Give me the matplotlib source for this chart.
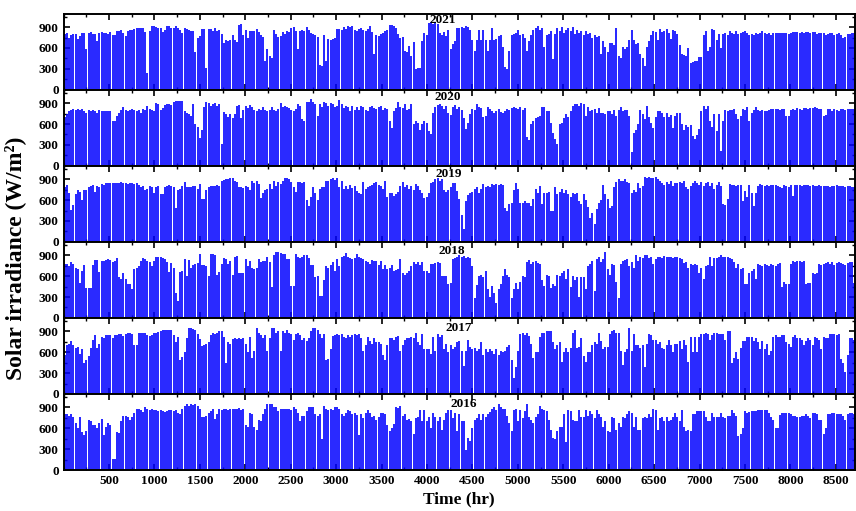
import numpy as np
import matplotlib
matplotlib.use("Agg")
import matplotlib.pyplot as plt
from matplotlib.ticker import MultipleLocator

plt.rcParams['font.family'] = ['Liberation Serif', 'DejaVu Serif']
plt.rcParams['font.weight'] = 'bold'

# daily peak irradiance, in units of 10 W/m2
peak_2021 = [80, 81, 74, 79, 80, 80, 73, 77, 82, 81, 58, 82, 83, 80, 80, 70, 82, 83, 81, 82,
             80, 83, 78, 79, 84, 84, 86, 82, 77, 84, 86, 86, 87, 88, 89, 88, 89, 83, 24, 85,
             91, 91, 90, 88, 88, 83, 86, 91, 91, 88, 88, 92, 89, 86, 82, 88, 87, 86, 85, 85,
             54, 74, 77, 87, 87, 31, 87, 87, 84, 88, 84, 86, 80, 67, 72, 70, 71, 79, 71, 68,
             93, 94, 78, 86, 75, 84, 85, 85, 87, 83, 78, 76, 41, 58, 48, 45, 86, 80, 76, 77,
             83, 80, 85, 83, 88, 90, 84, 58, 85, 86, 85, 90, 86, 82, 80, 78, 76, 35, 34, 78,
             42, 73, 72, 73, 74, 87, 87, 86, 90, 87, 92, 90, 91, 86, 84, 87, 88, 86, 85, 87,
             92, 83, 52, 78, 77, 80, 82, 84, 86, 93, 93, 92, 88, 80, 74, 76, 56, 54, 63, 48,
             68, 30, 31, 31, 70, 82, 78,
             96, 97, 95, 96, 94, 82, 79, 83, 77, 86, 58, 65, 70, 88, 89, 90, 88, 92, 90, 86,
             72, 56, 72, 86, 72, 86, 72, 56, 72, 88, 72, 73, 77, 79, 62, 33, 30, 56, 78, 80,
             82, 86, 78, 80, 75, 56, 70, 78, 86, 88, 91, 86, 89, 62, 78, 80, 84, 44, 80, 88,
             85, 90, 82, 86, 88, 84, 90, 80, 86, 82, 85, 78, 84, 80, 82, 75, 78, 76, 77, 52,
             70, 62, 54, 67, 67, 64, 88, 48, 46, 62, 59, 62, 71, 86, 72, 65, 67, 52, 46, 34,
             62, 70, 78, 84, 83, 72, 87, 83, 84, 87, 82, 73, 86, 84, 80, 64, 52, 50, 48, 60,
             38, 40, 42, 42, 47, 47, 79, 85, 56, 62, 87, 86, 72, 80, 60, 80, 82, 78, 84, 82,
             80, 84, 80, 81, 83, 84, 82, 78, 80, 78, 82, 80, 82, 84, 81, 80, 82, 79, 82, 82,
             81, 82, 81, 82, 82, 80, 82, 83, 83, 83, 82, 83, 81, 83, 83, 82, 83, 83, 80, 82,
             82, 82, 78, 80, 82, 81, 78, 80, 82, 78, 74, 76, 80, 80, 82, 82, 80, 80]

peak_2020 = [70, 75, 79, 80, 81, 80, 81, 80, 81, 79, 76, 80, 79, 80, 78, 76, 80, 79, 79, 78,
             79, 79, 64, 64, 72, 76, 80, 84, 80, 79, 80, 81, 80, 78, 80, 76, 82, 80, 86, 82,
             80, 78, 90, 88, 80, 83, 87, 88, 89, 87, 92, 93, 93, 93, 93, 78, 76, 74, 72, 88,
             60, 56, 40, 52, 84, 91, 90, 86, 88, 90, 86, 88, 32, 77, 74, 70, 74, 69, 74, 86,
             87, 68, 80, 86, 83, 87, 84, 80, 78, 82, 80, 84, 80, 78, 80, 84, 80, 78, 82, 90,
             85, 86, 85, 83, 80, 78, 82, 88, 86, 67, 65, 92, 92, 96, 92, 88, 72, 88, 84, 92,
             90, 86, 90, 88, 84, 86, 94, 88, 83, 86, 84, 78, 86, 80, 84, 80, 86, 84, 80, 78,
             84, 86, 83, 81, 84, 86, 80, 83, 81, 64, 55, 78, 83, 92, 85, 83, 88, 80, 82, 88,
             60, 64, 62, 51, 60, 64, 62,
             50, 46, 76, 84, 87, 88, 86, 82, 86, 76, 73, 85, 87, 82, 85, 80, 68, 53, 62, 75,
             82, 80, 88, 85, 83, 70, 72, 84, 82, 79, 76, 78, 82, 77, 76, 78, 82, 80, 83, 84,
             83, 82, 84, 80, 83, 42, 37, 60, 64, 68, 70, 72, 85, 85, 78, 78, 62, 47, 38, 31,
             60, 62, 68, 74, 70, 78, 86, 89, 88, 86, 90, 88, 71, 84, 78, 80, 82, 76, 83, 76,
             76, 74, 78, 78, 74, 80, 72, 80, 84, 78, 80, 80, 71, 20, 47, 52, 60, 80, 74, 67,
             86, 70, 62, 54, 70, 78, 78, 76, 70, 76, 70, 73, 54, 72, 76, 76, 60, 52, 58, 56,
             58, 43, 38, 44, 53, 79, 86, 82, 86, 64, 56, 75, 50, 75, 21, 64, 80, 78, 80, 80,
             81, 75, 67, 72, 82, 80, 84, 64, 76, 80, 84, 80, 78, 80, 78, 79, 80, 82, 81, 81,
             82, 80, 81, 81, 72, 72, 80, 82, 80, 83, 82, 80, 83, 83, 82, 83, 83, 84, 83, 82,
             81, 72, 73, 81, 81, 79, 82, 80, 79, 82, 81, 80, 82, 82, 81, 82, 82, 82]

peak_2019 = [79, 81, 70, 46, 53, 68, 74, 72, 60, 74, 75, 79, 80, 81, 71, 80, 78, 83, 82, 84,
             84, 85, 85, 85, 84, 85, 86, 84, 85, 83, 84, 84, 83, 84, 82, 78, 80, 74, 76, 80,
             78, 70, 79, 80, 69, 68, 79, 80, 81, 80, 78, 49, 74, 76, 80, 86, 79, 79, 78, 80,
             80, 76, 83, 62, 61, 74, 79, 80, 80, 80, 81, 80, 88, 89, 90, 90, 91, 92, 87, 86,
             78, 79, 77, 80, 78, 75, 88, 85, 88, 83, 63, 70, 74, 76, 83, 76, 88, 80, 86, 83,
             88, 92, 92, 90, 86, 78, 72, 86, 86, 85, 86, 60, 52, 65, 78, 70, 60, 76, 78, 79,
             88, 88, 90, 92, 89, 92, 78, 87, 76, 80, 76, 82, 77, 80, 73, 70, 68, 86, 76, 79,
             80, 82, 84, 86, 82, 80, 76, 87, 64, 70, 70, 66, 68, 72, 80, 86, 78, 82, 76, 80,
             75, 83, 80, 74, 70, 63, 64,
             70, 84, 86, 90, 92, 88, 90, 74, 72, 75, 79, 84, 84, 73, 62, 38, 19, 59, 67, 70,
             72, 76, 78, 70, 76, 83, 79, 80, 78, 83, 82, 83, 82, 83, 82, 48, 45, 54, 56, 74,
             84, 76, 56, 56, 58, 56, 56, 52, 62, 76, 70, 80, 55, 70, 70, 72, 44, 44, 79, 68,
             72, 76, 70, 74, 68, 65, 70, 68, 70, 58, 54, 69, 60, 50, 34, 42, 25, 47, 56, 60,
             81, 68, 62, 48, 52, 78, 86, 90, 88, 87, 90, 86, 84, 70, 74, 72, 84, 77, 80, 93,
             92, 93, 92, 91, 93, 90, 87, 84, 82, 86, 83, 87, 80, 85, 84, 86, 84, 87, 78, 76,
             80, 85, 87, 85, 82, 86, 80, 84, 86, 80, 84, 76, 82, 86, 80, 54, 53, 62, 83, 81,
             82, 80, 82, 82, 58, 73, 65, 82, 70, 52, 70, 80, 83, 81, 80, 81, 80, 82, 82, 82,
             80, 78, 77, 82, 80, 79, 82, 66, 81, 82, 81, 80, 82, 81, 81, 80, 81, 80, 80, 81,
             80, 80, 80, 80, 79, 80, 80, 81, 80, 80, 80, 79, 80, 80, 79, 78, 80, 80]

peak_2018 = [78, 78, 74, 80, 78, 72, 70, 50, 67, 76, 43, 43, 43, 76, 83, 83, 66, 82, 82, 83,
             85, 83, 80, 82, 86, 58, 56, 64, 56, 48, 48, 42, 70, 72, 74, 82, 86, 84, 82, 80,
             74, 82, 88, 88, 88, 86, 85, 80, 66, 79, 72, 36, 25, 66, 68, 84, 60, 83, 72, 76,
             78, 79, 92, 76, 76, 74, 60, 92, 92, 90, 62, 66, 78, 86, 84, 78, 82, 62, 88, 89,
             64, 64, 65, 85, 74, 82, 72, 70, 72, 85, 80, 81, 82, 87, 80, 44, 90, 95, 94, 93,
             92, 92, 84, 84, 46, 46, 92, 88, 86, 88, 90, 90, 86, 76, 76, 58, 60, 32, 32, 54,
             75, 72, 76, 80, 68, 85, 75, 87, 89, 93, 87, 86, 85, 86, 92, 88, 86, 85, 82, 80,
             78, 83, 82, 82, 76, 82, 70, 76, 70, 72, 76, 68, 69, 70, 85, 65, 62, 64, 68, 74,
             80, 78, 80, 76, 80, 68, 68,
             64, 78, 78, 79, 80, 79, 60, 60, 60, 48, 50, 84, 86, 88, 90, 88, 89, 86, 87, 86,
             74, 28, 47, 60, 62, 58, 68, 42, 30, 46, 36, 22, 42, 48, 60, 70, 62, 58, 29, 42,
             50, 42, 52, 60, 58, 80, 83, 78, 80, 82, 79, 78, 55, 46, 62, 60, 43, 49, 46, 62,
             60, 64, 68, 56, 70, 45, 60, 54, 58, 30, 58, 59, 42, 74, 78, 81, 38, 84, 87, 80,
             84, 95, 70, 62, 78, 76, 52, 29, 78, 82, 83, 84, 75, 80, 72, 90, 82, 88, 86, 90,
             90, 86, 88, 77, 84, 87, 88, 86, 89, 87, 87, 88, 86, 88, 87, 86, 84, 79, 80, 72,
             78, 76, 78, 76, 64, 72, 56, 74, 76, 88, 75, 86, 86, 88, 90, 88, 87, 87, 86, 85,
             80, 72, 78, 70, 72, 48, 48, 64, 68, 70, 56, 78, 76, 74, 78, 76, 74, 78, 76, 74,
             78, 79, 44, 52, 48, 48, 78, 82, 80, 82, 82, 80, 82, 48, 50, 50, 64, 63, 64, 78,
             76, 78, 79, 80, 78, 80, 76, 79, 80, 79, 78, 76, 79, 80, 80, 50, 52, 50]

peak_2017 = [56, 70, 72, 76, 70, 66, 68, 58, 64, 44, 48, 54, 66, 78, 84, 66, 72, 82, 80, 84,
             84, 85, 80, 84, 84, 86, 86, 83, 86, 87, 88, 86, 70, 70, 87, 88, 88, 87, 85, 83,
             84, 88, 87, 89, 90, 92, 92, 92, 92, 92, 84, 74, 82, 48, 53, 60, 80, 94, 95, 93,
             92, 86, 79, 69, 70, 72, 74, 84, 88, 86, 88, 90, 90, 82, 45, 75, 71, 79, 80, 79,
             80, 79, 80, 72, 60, 82, 52, 61, 95, 88, 84, 80, 84, 62, 80, 95, 95, 88, 90, 62,
             90, 88, 92, 88, 86, 78, 86, 88, 84, 78, 80, 76, 80, 90, 95, 94, 92, 86, 80, 86,
             48, 50, 65, 83, 84, 86, 85, 86, 82, 80, 84, 82, 85, 86, 84, 86, 80, 62, 70, 82,
             76, 72, 80, 74, 74, 72, 56, 48, 70, 80, 80, 78, 82, 83, 62, 70, 78, 80, 80, 81,
             80, 88, 75, 70, 86, 64, 65,
             64, 58, 82, 62, 86, 82, 85, 64, 72, 60, 70, 64, 68, 74, 76, 62, 40, 62, 78, 68,
             64, 66, 62, 64, 74, 56, 64, 60, 64, 62, 58, 64, 56, 62, 60, 62, 68, 70, 48, 23,
             38, 62, 86, 87, 84, 88, 83, 72, 52, 60, 60, 82, 88, 88, 90, 90, 90, 74, 64, 70,
             74, 46, 60, 66, 60, 66, 88, 92, 66, 68, 80, 55, 46, 60, 60, 70, 74, 72, 88, 76,
             64, 68, 68, 86, 90, 92, 88, 88, 62, 42, 60, 64, 94, 62, 86, 70, 70, 66, 70, 38,
             72, 86, 84, 78, 78, 72, 74, 66, 64, 70, 78, 70, 60, 72, 72, 76, 64, 78, 70, 46,
             82, 60, 82, 60, 82, 86, 86, 88, 86, 78, 84, 88, 88, 86, 86, 86, 78, 90, 90, 44,
             52, 60, 50, 66, 76, 76, 82, 82, 82, 76, 80, 74, 64, 76, 64, 72, 56, 62, 82, 84,
             82, 82, 84, 84, 74, 72, 68, 82, 84, 80, 80, 78, 70, 76, 80, 78, 70, 82, 80, 78,
             64, 82, 80, 80, 86, 86, 86, 84, 86, 50, 44, 32, 56, 80, 80, 78, 80, 80]

peak_2016 = [80, 80, 78, 80, 76, 68, 60, 76, 55, 50, 56, 72, 70, 64, 64, 60, 68, 73, 50, 62,
             68, 64, 16, 16, 54, 53, 70, 78, 78, 76, 72, 76, 82, 88, 88, 86, 83, 91, 88, 86,
             88, 86, 86, 85, 86, 84, 83, 84, 86, 86, 84, 86, 82, 80, 88, 92, 94, 92, 94, 93,
             94, 92, 88, 76, 76, 78, 82, 84, 88, 73, 80, 87, 86, 87, 88, 86, 88, 88, 88, 88,
             89, 86, 87, 64, 62, 82, 80, 62, 58, 72, 70, 80, 88, 95, 94, 94, 90, 90, 85, 88,
             88, 87, 88, 88, 86, 91, 88, 82, 70, 78, 78, 85, 90, 90, 91, 80, 78, 80, 45, 92,
             88, 86, 88, 86, 90, 91, 88, 80, 78, 82, 86, 84, 80, 82, 79, 50, 80, 74, 82, 86,
             82, 76, 78, 72, 76, 82, 82, 80, 64, 56, 60, 66, 90, 89, 92, 78, 80, 72, 73, 70,
             52, 74, 76, 86, 70, 86, 70,
             76, 60, 82, 76, 70, 76, 58, 72, 82, 86, 86, 74, 82, 56, 80, 70, 70, 28, 46, 42,
             60, 72, 74, 80, 72, 80, 76, 80, 83, 88, 90, 86, 94, 90, 88, 88, 78, 68, 56, 86,
             88, 70, 86, 74, 84, 94, 76, 72, 68, 76, 80, 92, 88, 86, 84, 72, 58, 46, 44, 56,
             62, 62, 80, 40, 86, 84, 72, 70, 70, 86, 76, 76, 86, 78, 84, 80, 74, 86, 80, 76,
             62, 70, 56, 54, 76, 74, 58, 68, 62, 76, 74, 80, 84, 82, 62, 76, 58, 58, 74, 76,
             74, 80, 76, 88, 86, 58, 74, 76, 70, 76, 70, 72, 76, 82, 76, 70, 86, 62, 56, 58,
             56, 80, 80, 84, 84, 84, 84, 76, 70, 70, 82, 76, 76, 76, 82, 76, 74, 78, 78, 86,
             82, 78, 49, 52, 60, 84, 82, 83, 84, 84, 84, 86, 86, 86, 86, 86, 82, 76, 72, 60,
             60, 79, 82, 82, 82, 82, 80, 78, 78, 76, 76, 78, 78, 80, 78, 74, 82, 82, 80, 72,
             72, 52, 60, 80, 80, 82, 82, 80, 80, 80, 78, 72, 80, 82, 82, 80, 80, 80]

years = ['2021', '2020', '2019', '2018', '2017', '2016']
peaks = [peak_2021, peak_2020, peak_2019, peak_2018, peak_2017, peak_2016]
# where the year tag sits in each panel (hr, W/m2)
tag_x = [4170, 4225, 4236, 4269, 4346, 4401]
tag_y = [1000, 990, 975, 960, 947, 947]

fig, axes = plt.subplots(6, 1, figsize=(8.56, 5.11), dpi=100, sharex=True)
fig.subplots_adjust(left=0.0742, right=0.9988, top=0.973, bottom=0.0802, hspace=0)

for ax, yr, pk, tx, ty in zip(axes, years, peaks, tag_x, tag_y):
    pk = np.array(pk) * 10.0
    hrs = np.arange(len(pk)) * 24 + 12
    ax.vlines(hrs, 0, pk, color='#0000ff', lw=1.2)
    ax.set_xlim(0, 8710)
    ax.set_ylim(0, 1090)
    ax.set_yticks([0, 300, 600, 900])
    ax.yaxis.set_minor_locator(MultipleLocator(150))
    ax.xaxis.set_major_locator(MultipleLocator(500))
    ax.xaxis.set_minor_locator(MultipleLocator(250))
    ax.tick_params(which='both', direction='in', top=True, right=True, labelsize=9.5)
    ax.tick_params(which='major', length=4, width=1.2)
    ax.tick_params(which='minor', length=2, width=1)
    for s in ax.spines.values():
        s.set_linewidth(1.4)
    ax.text(tx, ty, yr, ha='center', va='center', fontsize=9.5, fontweight='bold')

axes[-1].set_xticks(np.arange(500, 8501, 500))
axes[-1].set_xlabel('Time (hr)', fontsize=12.5, fontweight='bold', labelpad=3)
fig.text(0.018, 0.495, 'Solar irradiance (W/m\u00b2)', rotation=90,
         ha='center', va='center', fontsize=17, fontweight='bold')

fig.savefig('out.png', dpi=100)
